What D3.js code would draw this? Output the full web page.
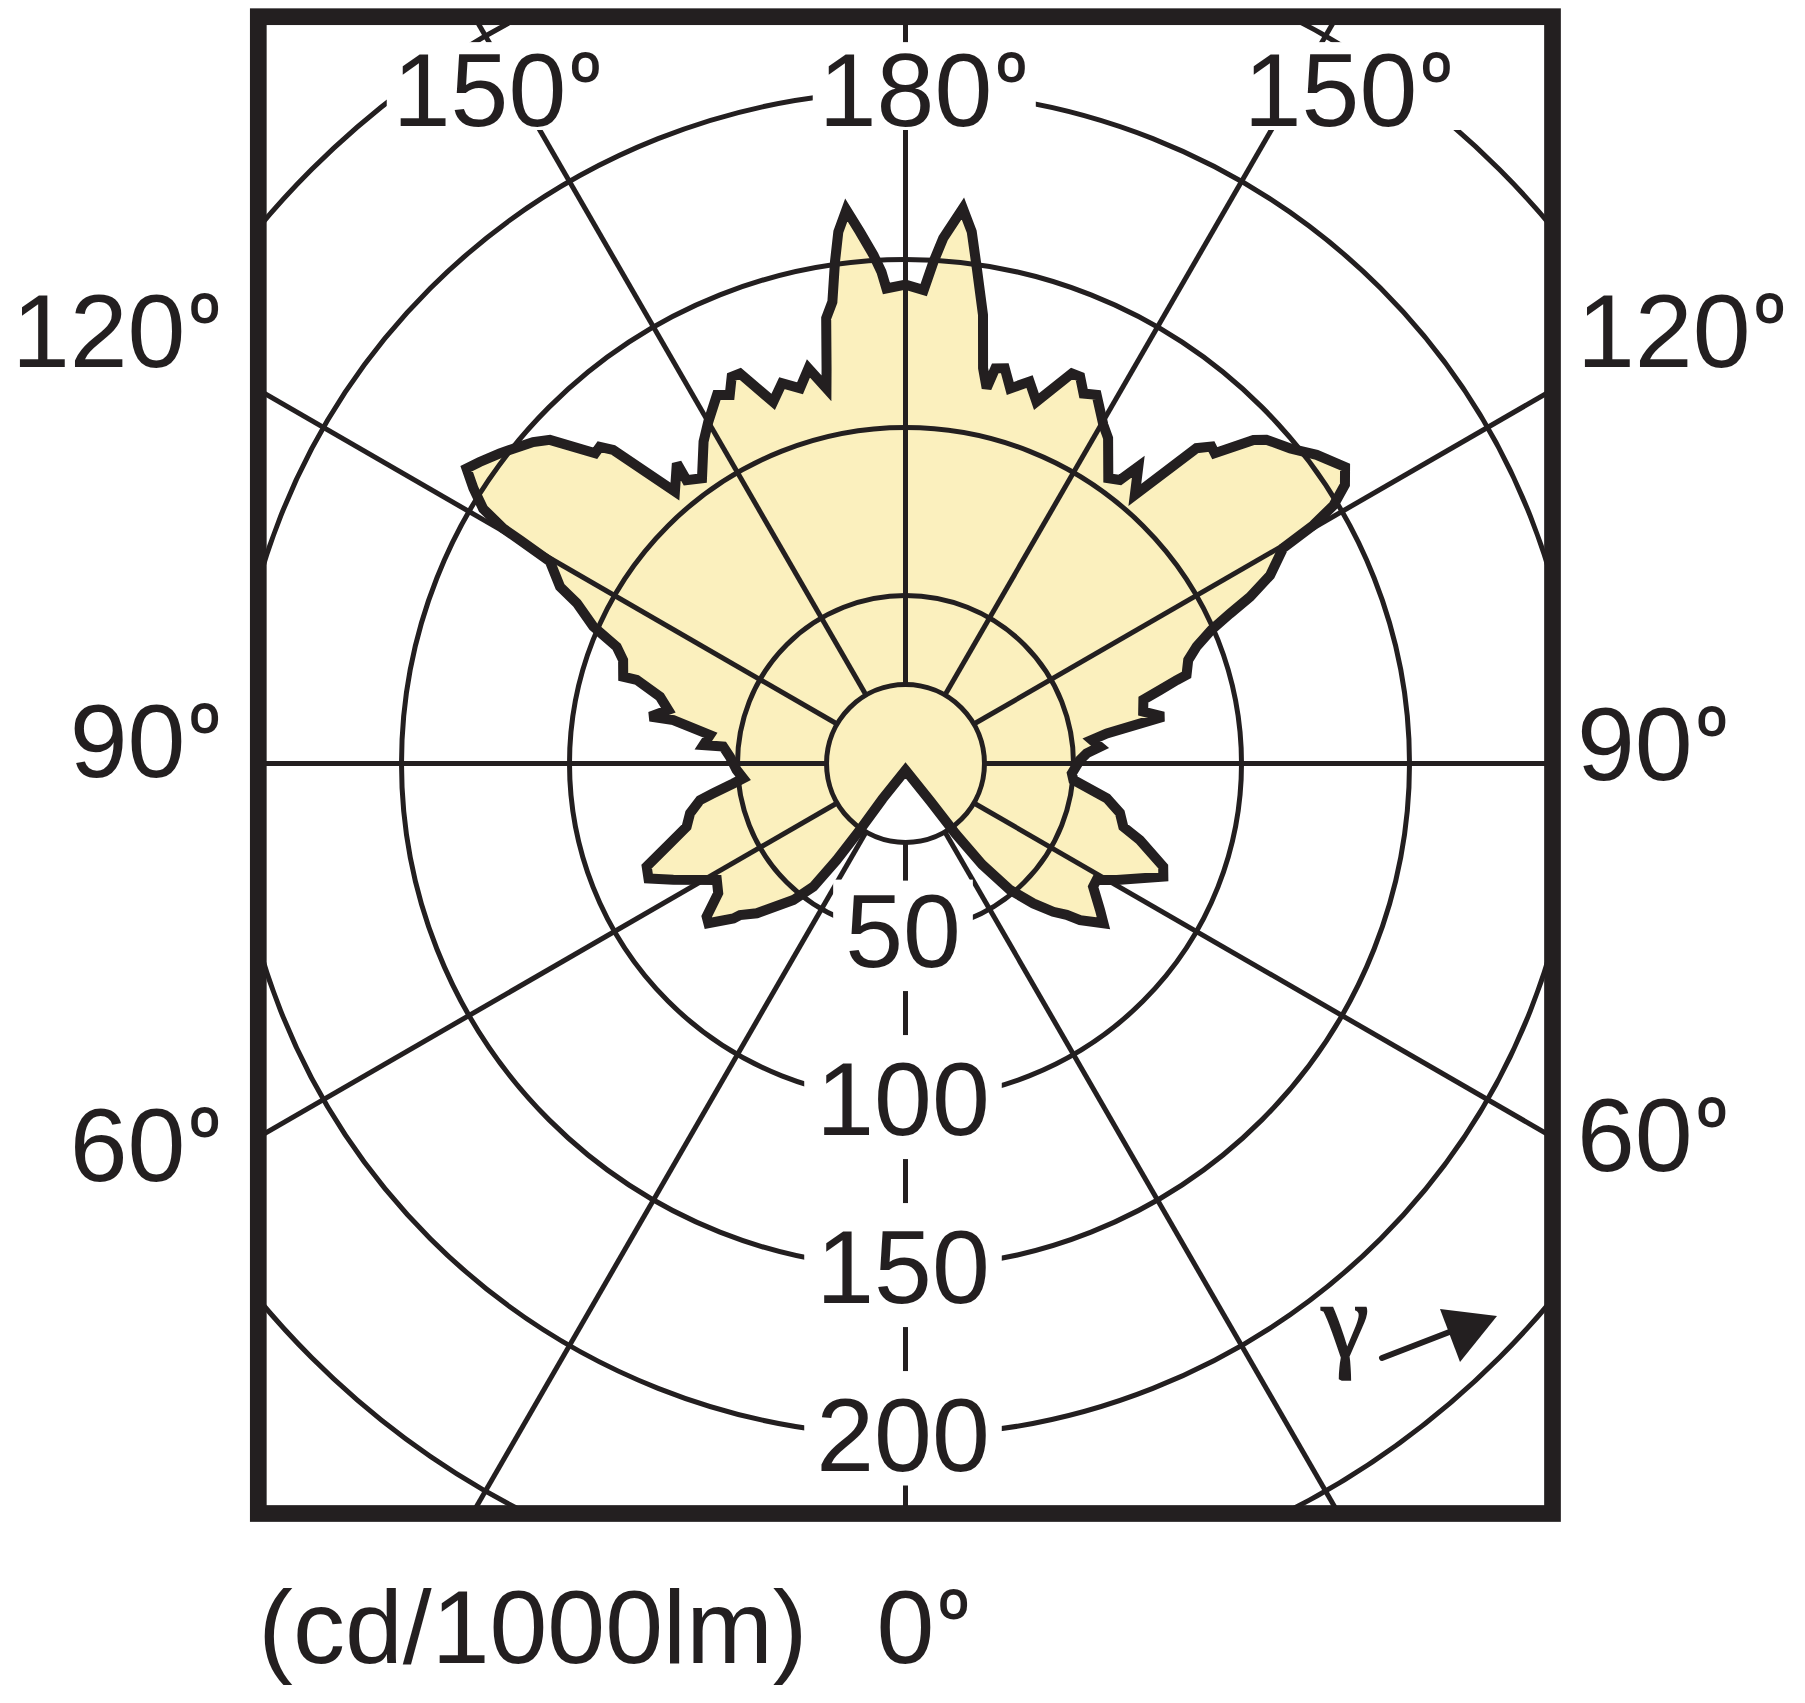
<!DOCTYPE html>
<html><head><meta charset="utf-8">
<script src="https://cdn.jsdelivr.net/npm/d3@7"></script>
<style>html,body{margin:0;padding:0;background:#fff;} svg{display:block;}</style>
</head><body>
<svg id="chart" width="1805" height="1703"></svg>
<script>
// ---- data (gamma in degrees, intensity in cd/1000lm) ----
const gammaRight = [0, 33.5, 35.5, 37.2, 39.6, 42.4, 44.9, 46.8, 48.1, 51.1, 53.0, 56.7, 58.6, 61.1, 66.3, 68.2, 71.9, 73.8, 77.0, 80.2, 84.4, 86.6, 91.1, 93.2, 94.9, 97.2, 98.5, 100.3, 102.3, 105.0, 106.1, 107.1, 107.5, 110.1, 111.9, 113.6, 114.8, 115.8, 117.3, 119.7, 120.3, 121.1, 122.4, 124.0, 126.9, 129.3, 131.9, 132.9, 135.1, 136.0, 137.3, 139.5, 141.9, 142.9, 144.6, 148.1, 149.7, 152.6, 154.3, 155.7, 156.9, 160.1, 162.0, 164.4, 165.9, 167.2, 167.8, 168.9, 170.2, 171.8, 172.9, 174.1, 175.9, 176.8, 177.8, 180];
const intensityRight = [2, 13.5, 25.8, 37.7, 48.8, 56.4, 62.3, 65.8, 69.8, 75.7, 72.5, 66.8, 66.6, 71.8, 83.8, 82.6, 73.4, 67.5, 65.5, 60.8, 50.2, 49.6, 51.9, 54.0, 58.1, 55.9, 60.6, 78.0, 72.4, 73.3, 78.8, 84.5, 87.7, 89.6, 93.4, 99.4, 106.4, 113.9, 122.1, 129.4, 140.6, 148.8, 154.9, 157.8, 153.0, 148.0, 144.3, 141.4, 130.4, 131.1, 127.7, 105.1, 112.3, 105.8, 104.2, 114.1, 116.7, 123.6, 122.2, 126.3, 126.2, 114.5, 119.5, 115.9, 121.3, 120.6, 114.3, 119.9, 135.5, 148.9, 159.5, 166.1, 156.7, 149.6, 141.0, 142.5];
const gammaLeft = [0, 33.0, 34.5, 35.5, 36.8, 39.4, 44.8, 47.5, 48.0, 51.0, 52.4, 55.3, 58.3, 63.4, 65.9, 68.3, 70.8, 73.9, 77.0, 79.9, 81.2, 83.4, 84.8, 87.8, 92.2, 95.3, 95.2, 98.3, 100.6, 100.4, 102.7, 105.2, 107.3, 107.1, 110.1, 112.0, 113.7, 116.0, 117.1, 119.6, 120.1, 120.3, 121.1, 122.5, 123.9, 125.3, 127.4, 130.8, 132.3, 135.0, 136.0, 137.0, 139.7, 142.7, 142.3, 144.5, 147.9, 150.0, 152.9, 154.5, 155.8, 157.0, 159.9, 162.0, 164.3, 166.2, 168.1, 168.7, 169.9, 171.0, 172.0, 172.8, 173.9, 175.1, 176.4, 177.2, 177.7, 180];
const intensityLeft = [2, 12.5, 24.5, 35.3, 45.8, 52.6, 62.8, 66.8, 68.9, 75.5, 74.7, 67.8, 66.0, 77.3, 83.8, 82.9, 75.3, 67.8, 65.8, 62.1, 57.9, 51.6, 48.5, 50.3, 52.3, 54.5, 60.4, 58.8, 70.3, 77.3, 72.4, 75.7, 83.8, 87.9, 89.5, 92.7, 101.5, 108.8, 115.5, 121.7, 132.6, 138.7, 146.8, 152.5, 157.4, 155.3, 152.0, 146.4, 143.1, 130.6, 131.0, 127.6, 106.1, 112.3, 106.6, 104.3, 113.1, 117.4, 123.2, 121.5, 126.2, 126.1, 114.6, 119.0, 116.0, 121.1, 114.1, 119.9, 134.6, 139.1, 150.8, 159.5, 165.7, 158.8, 151.6, 146.5, 141.5, 142.5];

const ringValues = [50, 100, 150, 200, 250];
const ringLabels = ["50", "100", "150", "200"];
const hubValue = 23.5;
const spokeAngles = [30, 60, 90, 120, 150];
const topAngleLabels = ["150", "180", "150"];
const leftAngleLabels = ["120", "90", "60"];
const rightAngleLabels = ["120", "90", "60"];
const degreeMark = "º";
const unitLabel = "(cd/1000lm)";
const bottomAngleLabel = "0";
const gammaSymbol = "γ";

// ---- layout ----
const cx = 905.5, cy = 763.5;
const frame = {x0: 258.3, y0: 16.7, x1: 1552.5, y1: 1513.5};
const ink = "#231f20";
const fillColor = "#fbf0be";
const font = "'Liberation Sans', Arial, Helvetica, sans-serif";
const fs = 104;
const degFs = 80;

const svg = d3.select("#chart");
const r = d3.scaleLinear().domain([0, 250]).range([0, 840]);
const aRight = d3.scaleLinear().domain([0, 180]).range([Math.PI, 0]);
const aLeft = d3.scaleLinear().domain([0, 180]).range([Math.PI, 2 * Math.PI]);

const pts = [];
gammaRight.forEach((g, i) => pts.push([aRight(g), r(intensityRight[i])]));
for (let i = gammaLeft.length - 1; i >= 0; i--) pts.push([aLeft(gammaLeft[i]), r(intensityLeft[i])]);
const radial = d3.lineRadial().angle(d => d[0]).radius(d => d[1]).curve(d3.curveLinearClosed);

svg.append("defs").append("clipPath").attr("id", "fclip")
  .append("rect").attr("x", frame.x0).attr("y", frame.y0)
  .attr("width", frame.x1 - frame.x0).attr("height", frame.y1 - frame.y0);

// layer 1: fill + grid
const g = svg.append("g").attr("clip-path", "url(#fclip)")
  .append("g").attr("transform", `translate(${cx},${cy})`);
g.append("path").attr("d", radial(pts)).attr("fill", fillColor).attr("stroke", "none");

const grid = g.append("g").attr("fill", "none").attr("stroke", ink).attr("stroke-width", 5);
ringValues.forEach(v => grid.append("circle").attr("r", r(v)));
grid.append("circle").attr("r", r(hubValue));
const R0 = r(hubValue), R1 = 1400;
function spoke(a) {
  grid.append("line")
    .attr("x1", R0 * Math.sin(a)).attr("y1", -R0 * Math.cos(a))
    .attr("x2", R1 * Math.sin(a)).attr("y2", -R1 * Math.cos(a));
}
spokeAngles.forEach(s => { spoke(aRight(s)); spoke(aLeft(s)); });
spoke(aRight(180));

// helpers
function measure(str, size, fam) {
  const t = svg.append("text").attr("font-family", fam).attr("font-size", size).text(str);
  const w = t.node().getComputedTextLength();
  t.remove();
  return w;
}
function degLabel(parent, num, x, baseline, mode) {
  const t = parent.append("text").attr("font-family", font).attr("font-size", fs).attr("fill", ink)
    .attr("y", baseline);
  t.append("tspan").text(num);
  t.append("tspan").attr("font-family", "Roboto, 'Liberation Sans', sans-serif").attr("font-weight", 500)
    .attr("font-size", degFs).attr("dx", 1).attr("dy", -(0.711 * fs - 0.711 * degFs)).text(degreeMark);
  if (mode === "center") {
    const w = measure(num, fs, font);
    t.attr("x", x - w / 2);
  } else if (mode === "end") {
    t.attr("x", x).attr("text-anchor", "end");
  } else {
    t.attr("x", x);
  }
  return t;
}
function addBg(parent, t, baseline, padX, padTop, padBottom) {
  const b = t.node().getBBox();
  parent.insert("rect", () => t.node())
    .attr("x", b.x - padX).attr("width", b.width + 2 * padX)
    .attr("y", baseline - 0.72 * fs - padTop).attr("height", 0.72 * fs + padTop + padBottom)
    .attr("fill", "#fff");
}

// layer 2: labels inside the frame
const labels = svg.append("g");
const topBase = cy - r(200) + 34.5;
const topX = [cx - 426, cx, cx + 425];
topAngleLabels.forEach((s, i) => {
  const t = degLabel(labels, s, topX[i], topBase, "center");
  addBg(labels, t, topBase, 6, 9, 4);
});
const ringBases = ringLabels.map(s => cy + r(+s) + 35);
ringLabels.forEach((s, i) => {
  const t = labels.append("text").attr("font-family", font).attr("font-size", fs).attr("fill", ink)
    .attr("text-anchor", "middle").attr("x", cx - 2.5).attr("y", ringBases[i]).text(s);
  addBg(labels, t, ringBases[i], 12, 12, 14);
});
// 0° axis drawn as short segments between the ring labels
const axis = svg.append("g").attr("stroke", ink).attr("stroke-width", 5);
const segs = [];
segs.push([cy + r(hubValue), ringBases[0] - 0.72 * fs - 11]);
for (let i = 0; i < ringBases.length - 1; i++) {
  const m = (ringBases[i] + ringBases[i + 1] - 0.72 * fs) / 2;
  segs.push([m - 22, m + 22]);
}
segs.push([ringBases[ringBases.length - 1] + 15, frame.y1]);
segs.forEach(s => axis.append("line").attr("x1", cx).attr("x2", cx).attr("y1", s[0]).attr("y2", s[1]));

// layer 3: outline
svg.append("g").attr("clip-path", "url(#fclip)")
  .append("g").attr("transform", `translate(${cx},${cy})`)
  .append("path").attr("d", radial(pts)).attr("fill", "none").attr("stroke", ink)
  .attr("stroke-width", 10).attr("stroke-linejoin", "miter").attr("stroke-miterlimit", 3);

// frame
svg.append("rect").attr("x", frame.x0).attr("y", frame.y0)
  .attr("width", frame.x1 - frame.x0).attr("height", frame.y1 - frame.y0)
  .attr("fill", "none").attr("stroke", ink).attr("stroke-width", 16.7);

// side labels
const leftBases = [367, 777, 1181];
const rightBases = [367, 780, 1171];
leftAngleLabels.forEach((s, i) => degLabel(svg, s, 223, leftBases[i], "end"));
rightAngleLabels.forEach((s, i) => degLabel(svg, s, 1577, rightBases[i], "start"));

// bottom labels
svg.append("text").attr("font-family", font).attr("font-size", fs).attr("fill", ink)
  .attr("x", frame.x0).attr("y", 1663).text(unitLabel);
degLabel(svg, bottomAngleLabel, cx, 1663, "center");

// gamma arrow
svg.append("text").attr("font-family", "'Liberation Serif', 'DejaVu Serif', serif").attr("font-size", 108)
  .attr("fill", ink).attr("stroke", ink).attr("stroke-width", 1.5)
  .attr("text-anchor", "middle").attr("x", 1345).attr("y", 1357).text(gammaSymbol);
svg.append("line").attr("x1", 1382).attr("y1", 1358).attr("x2", 1452).attr("y2", 1331)
  .attr("stroke", ink).attr("stroke-width", 6).attr("stroke-linecap", "round");
svg.append("path").attr("d", "M1440,1309 L1497,1316 L1460,1362 Z").attr("fill", ink);
</script>
</body></html>
